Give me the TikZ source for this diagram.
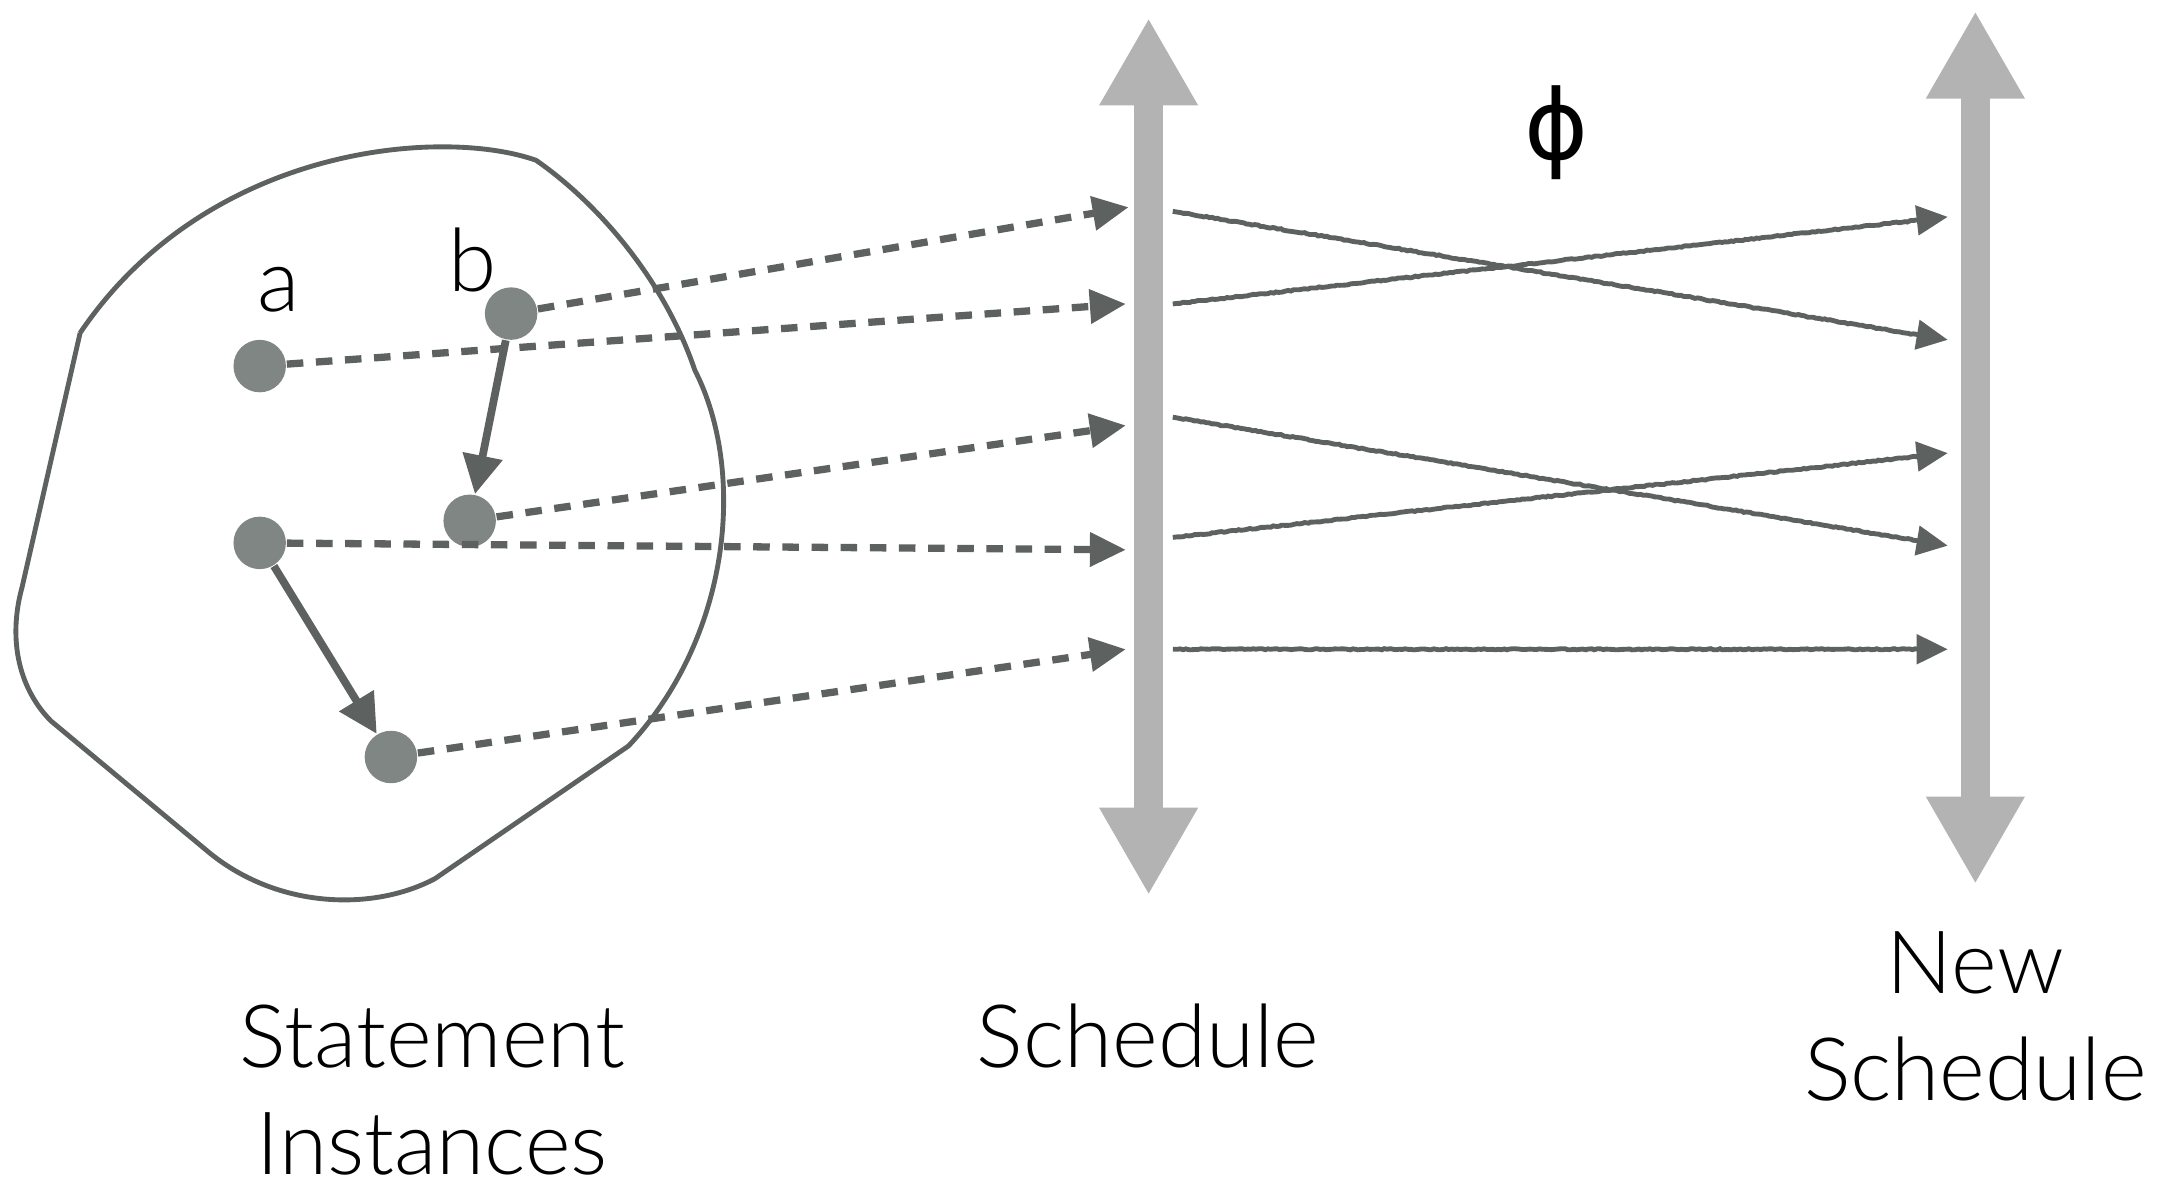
\documentclass[tikz,border=0pt]{standalone}
\usepackage{fontspec}
\setmainfont{Lato}[UprightFont=* Light]
\newfontfamily\symfont{DejaVu Sans}
\usepackage{xcolor}
\usetikzlibrary{arrows.meta, decorations.pathmorphing, positioning}

\definecolor{edgegray}{HTML}{5D615F}
\definecolor{dotgray}{HTML}{808683}
\definecolor{bargray}{HTML}{B3B3B3}

\tikzset{
  inst/.style={circle, fill=dotgray, minimum size=10.8pt, inner sep=0pt},
  dep/.style={draw=edgegray, line width=1.6pt, -{Triangle[length=8pt,width=8pt]}},
  proj/.style={draw=edgegray, line width=1.5pt, dash pattern=on 3.4pt off 2.6pt,
    -{Triangle[length=7.4pt,width=6.8pt]}},
  remap/.style={draw=edgegray, line width=1pt, decorate,
    decoration={random steps, segment length=0.6pt, amplitude=0.12pt, pre length=1pt, post length=6pt},
    -{Triangle[length=6.4pt,width=6pt]}},
  timeaxis/.style={draw=bargray, line width=6pt,
    {Triangle[length=18pt,width=19pt]}-{Triangle[length=18pt,width=19pt]}},
  lbl/.style={font=\fontsize{18}{22}\selectfont, align=center, inner sep=0pt}
}

\begin{document}
\begin{tikzpicture}[x=0.01cm, y=-0.01cm]
      \useasboundingbox (0,0) rectangle (1568,860);

      % domain outline
      \draw[edgegray, line width=1pt, line join=round]
        (58,241) -- (16,425) .. controls (5,465) and (15,500) .. (37,522)
        -- (150,616) .. controls (200,658) and (270,660) .. (315,636)
        -- (455,540) .. controls (530,460) and (540,340) .. (503,268)
        .. controls (480,200) and (430,145) .. (388,116)
        .. controls (320,92) and (150,105) .. (58,241);

      % statement instances
      \node[inst] (ia) at (188,265) {};
      \node[inst] (ib) at (370,227) {};
      \node[inst] (ic) at (340,377) {};
      \node[inst] (id) at (188,393) {};
      \node[inst] (ie) at (283,548) {};
      \node[lbl] (la) at (202,210) {a};
      \node[lbl] (lb) at (342,188) {b};

      % dependences
      \draw[dep] (ib) -- (ic);
      \draw[dep] (id) -- (ie);

      % the two time axes
      \coordinate (schedbot) at (831.5,648);
      \coordinate (schedtop) at (831.5,13);
      \coordinate (newbot) at (1430,640);
      \coordinate (newtop) at (1430,8);
      \draw[timeaxis] (schedbot) -- (schedtop);
      \draw[timeaxis] (newbot) -- (newtop);

      % points on the schedule
      \coordinate (p1) at (817,150);
      \coordinate (p2) at (815,220);
      \coordinate (p3) at (815,308);
      \coordinate (p4) at (815,398);
      \coordinate (p5) at (815,470);

      % ib to p1
      \draw[proj] (ib) -- (p1);
      % ia to p2
      \draw[proj] (ia) -- (p2);
      % ic to p3
      \draw[proj] (ic) -- (p3);
      % id to p4
      \draw[proj] (id) -- (p4);
      % ie to p5
      \draw[proj] (ie) -- (p5);

      % old and new dates
      \coordinate (s1) at (849,153);
      \coordinate (s2) at (849,220);
      \coordinate (s3) at (849,302);
      \coordinate (s4) at (849,389);
      \coordinate (s5) at (849,470);
      \coordinate (n1) at (1410,157);
      \coordinate (n2) at (1410,246);
      \coordinate (n3) at (1410,328);
      \coordinate (n4) at (1410,395);
      \coordinate (n5) at (1410,470);

      % s1 to n2
      \draw[remap] (s1) -- (n2);
      % s2 to n1
      \draw[remap] (s2) -- (n1);
      % s3 to n4
      \draw[remap] (s3) -- (n4);
      % s4 to n3
      \draw[remap] (s4) -- (n3);
      % s5 to n5
      \draw[remap] (s5) -- (n5);

      \node[font=\symfont\fontsize{20}{24}\selectfont, inner sep=0pt] (phi) at (1127,96) {ϕ};

      \node[lbl] (stmt) at (313,789) {Statement\\Instances};
      \node[lbl] (sched) at (831,750) {Schedule};
      \node[lbl] (newsched) at (1430,736) {New\\Schedule};
\end{tikzpicture}
\end{document}
